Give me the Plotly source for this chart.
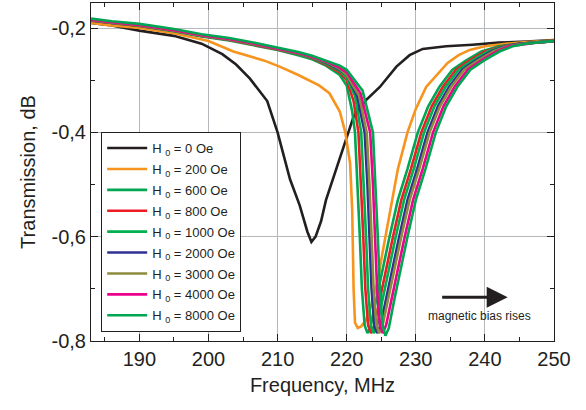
import plotly.graph_objects as go

# field labels and colours
fields = ["0", "200", "600", "800", "1000", "2000", "3000", "4000", "8000"]
colors = ["#231f20", "#f7941d", "#00a651", "#ed1c24", "#00b04f",
          "#2e3192", "#8d8b3c", "#ec008c", "#00a651"]

# H0 = 0 Oe
f_0 = [183, 186, 190, 195, 199, 202, 204, 206, 208.5, 210, 211.8, 213.2, 214.3, 214.9,
       215.5, 216.3, 217, 218, 219.9, 221, 222.8, 224.8, 227.2, 229.1, 231, 234.4,
       238.2, 242, 246, 250]
t_0 = [-0.19, -0.195, -0.205, -0.215, -0.23, -0.25, -0.27, -0.297, -0.34, -0.40,
       -0.49, -0.54, -0.59, -0.61, -0.60, -0.57, -0.53, -0.49, -0.414, -0.37, -0.338,
       -0.313, -0.274, -0.252, -0.24, -0.235, -0.232, -0.228, -0.226, -0.223]

# H0 = 200 Oe
f_200 = [183, 186, 190, 195, 200, 203.6, 208, 210.3, 213, 216, 217.5, 219, 219.8,
         220.5, 220.8, 221.0, 221.2, 221.6, 222.1, 222.8, 223.6, 224.4, 225.2, 226.2,
         227.4, 228.8, 230, 231.5, 233, 234.6, 236.2, 237.8, 240, 243, 246, 250]
t_200 = [-0.19, -0.195, -0.2, -0.21, -0.225, -0.245, -0.262, -0.274, -0.29, -0.31,
         -0.325, -0.36, -0.40, -0.46, -0.55, -0.70, -0.765, -0.775, -0.772, -0.76,
         -0.73, -0.69, -0.63, -0.56, -0.471, -0.40, -0.355, -0.313, -0.29, -0.267,
         -0.252, -0.242, -0.235, -0.23, -0.227, -0.224]

# H0 = 600 Oe
f_600 = [183, 186, 190, 195, 199, 203, 207, 210, 213, 215, 217, 219, 220.0, 220.8,
         221.2, 221.6, 221.9, 222.2, 222.6, 223.0, 223.5, 224.3, 225.2, 226.2, 227.4,
         228.8, 230.3, 231.8, 233.4, 235.3, 237.3, 239.5, 242, 245, 248, 250]
t_600 = [-0.186, -0.19, -0.196, -0.206, -0.216, -0.224, -0.234, -0.242, -0.252,
         -0.26, -0.272, -0.29, -0.31, -0.36, -0.40, -0.50, -0.60, -0.70, -0.77,
         -0.785, -0.77, -0.72, -0.66, -0.60, -0.53, -0.47, -0.40, -0.35, -0.313,
         -0.28, -0.262, -0.245, -0.235, -0.23, -0.227, -0.225]

# H0 = 800 Oe
f_800 = [183, 186, 190, 195, 199, 203, 207, 210, 213, 215, 217, 219, 220.0, 221.0,
         221.7, 222.1, 222.4, 222.7, 223.1, 223.5, 224.0, 224.8, 225.7, 226.7, 227.9,
         229.3, 230.8, 232.3, 233.9, 235.8, 237.8, 240.0, 242.5, 245, 248, 250]
t_800 = [-0.186, -0.19, -0.196, -0.205, -0.215, -0.223, -0.233, -0.241, -0.25,
         -0.258, -0.27, -0.285, -0.30, -0.34, -0.40, -0.50, -0.60, -0.70, -0.77,
         -0.785, -0.77, -0.72, -0.66, -0.60, -0.53, -0.47, -0.40, -0.35, -0.313,
         -0.28, -0.262, -0.245, -0.235, -0.23, -0.227, -0.225]

# H0 = 1000 Oe
f_1000 = [183, 186, 190, 195, 199, 203, 207, 210, 213, 215, 217, 219, 220.0, 221.2,
          222.1, 222.5, 222.8, 223.1, 223.5, 223.9, 224.4, 225.2, 226.1, 227.1, 228.3,
          229.7, 231.2, 232.7, 234.3, 236.2, 238.2, 240.4, 242.7, 245, 248, 250]
t_1000 = [-0.185, -0.19, -0.195, -0.205, -0.215, -0.222, -0.232, -0.24, -0.25,
          -0.257, -0.268, -0.282, -0.295, -0.33, -0.40, -0.50, -0.60, -0.70, -0.77,
          -0.785, -0.77, -0.72, -0.66, -0.60, -0.53, -0.47, -0.40, -0.35, -0.313,
          -0.28, -0.262, -0.245, -0.235, -0.23, -0.227, -0.225]

# H0 = 2000 Oe
f_2000 = [183, 186, 190, 195, 199, 203, 207, 210, 213, 215, 217, 219, 220.0, 221.5,
          222.6, 223.0, 223.3, 223.6, 224.0, 224.4, 224.9, 225.7, 226.6, 227.6, 228.8,
          230.2, 231.7, 233.2, 234.8, 236.7, 238.7, 240.9, 243, 245, 248, 250]
t_2000 = [-0.185, -0.19, -0.195, -0.205, -0.215, -0.222, -0.232, -0.24, -0.249,
          -0.256, -0.266, -0.28, -0.29, -0.33, -0.40, -0.50, -0.60, -0.70, -0.77,
          -0.785, -0.77, -0.72, -0.66, -0.60, -0.53, -0.47, -0.40, -0.35, -0.313,
          -0.28, -0.262, -0.245, -0.235, -0.23, -0.227, -0.225]

# H0 = 3000 Oe
f_3000 = [183, 186, 190, 195, 199, 203, 207, 210, 213, 215, 217, 219, 220.0, 221.8,
          222.9, 223.3, 223.6, 223.9, 224.3, 224.7, 225.2, 226.0, 226.9, 227.9, 229.1,
          230.5, 232.0, 233.5, 235.1, 237.0, 239.0, 241.2, 243.2, 245.5, 248, 250]
t_3000 = [-0.185, -0.19, -0.195, -0.205, -0.215, -0.222, -0.232, -0.24, -0.249,
          -0.256, -0.265, -0.278, -0.29, -0.33, -0.40, -0.50, -0.60, -0.70, -0.77,
          -0.785, -0.77, -0.72, -0.66, -0.60, -0.53, -0.47, -0.40, -0.35, -0.313,
          -0.28, -0.262, -0.245, -0.235, -0.23, -0.227, -0.225]

# H0 = 4000 Oe
f_4000 = [183, 186, 190, 195, 199, 203, 207, 210, 213, 215, 217, 219, 220.0, 222.0,
          223.4, 223.8, 224.1, 224.4, 224.8, 225.2, 225.7, 226.5, 227.4, 228.4, 229.6,
          231.0, 232.5, 234.0, 235.6, 237.5, 239.5, 241.7, 243.5, 246, 248, 250]
t_4000 = [-0.184, -0.189, -0.194, -0.204, -0.214, -0.221, -0.231, -0.239, -0.248,
          -0.255, -0.264, -0.276, -0.285, -0.325, -0.40, -0.50, -0.60, -0.70, -0.77,
          -0.785, -0.77, -0.72, -0.66, -0.60, -0.53, -0.47, -0.40, -0.35, -0.313,
          -0.28, -0.262, -0.245, -0.235, -0.23, -0.227, -0.225]

# H0 = 8000 Oe
f_8000 = [183, 186, 190, 195, 199, 203, 207, 210, 213, 215, 217, 219, 220.0, 222.3,
          223.8, 224.2, 224.5, 224.8, 225.2, 225.6, 226.1, 226.9, 227.8, 228.8, 230.0,
          231.4, 232.9, 234.4, 236.0, 237.9, 239.9, 242.1, 244, 246, 248, 250]
t_8000 = [-0.182, -0.187, -0.192, -0.202, -0.212, -0.219, -0.229, -0.237, -0.246,
          -0.253, -0.262, -0.272, -0.28, -0.32, -0.40, -0.50, -0.60, -0.70, -0.77,
          -0.79, -0.775, -0.72, -0.66, -0.60, -0.53, -0.47, -0.40, -0.35, -0.313,
          -0.28, -0.262, -0.245, -0.235, -0.23, -0.227, -0.225]

freqs = [f_0, f_200, f_600, f_800, f_1000, f_2000, f_3000, f_4000, f_8000]
trans = [t_0, t_200, t_600, t_800, t_1000, t_2000, t_3000, t_4000, t_8000]

y_ticks = [-0.8, -0.6, -0.4, -0.2]
y_ticktext = ["-0,8", "-0,6", "-0,4", "-0,2"]

FONT = "Liberation Sans, Arial, sans-serif"
INK = "#231f20"

fig = go.Figure()
for h, c, f, t in zip(fields, colors, freqs, trans):
    fig.add_trace(go.Scatter(
        x=f, y=t, mode="lines",
        name=f"H <sub>0</sub> = {h} Oe",
        legendgroup=h,
        line=dict(color=c, width=2.6),
    ))

fig.add_annotation(x=243.3, y=-0.716, ax=233.6, ay=-0.716, axref="x", ayref="y",
                   xref="x", yref="y", text="", showarrow=True,
                   arrowhead=2, arrowsize=1.4, arrowwidth=3, arrowcolor=INK)
fig.add_annotation(x=239.2, y=-0.752, text="magnetic bias rises", showarrow=False,
                   font=dict(size=12, color=INK, family=FONT))

fig.update_layout(
    width=586, height=410,
    margin=dict(l=91, r=32, t=3, b=69),
    plot_bgcolor="white", paper_bgcolor="white",
    font=dict(family=FONT, color=INK),
    showlegend=True,
    legend=dict(x=0.022, y=0.618, xanchor="left", yanchor="top",
                bgcolor="white", bordercolor=INK, borderwidth=1,
                font=dict(size=13, color=INK), itemwidth=40,
                tracegroupgap=1),
    xaxis=dict(range=[183, 250], dtick=10, tick0=0, automargin=False,
               showline=True, linecolor=INK, linewidth=1, mirror="ticks",
               ticks="inside", ticklen=7, tickcolor=INK,
               showgrid=True, gridcolor="#b4b8bc", gridwidth=1, zeroline=False,
               tickfont=dict(size=20), title=dict(text="Frequency, MHz", font=dict(size=20), standoff=8),
               minor=dict(dtick=5, ticks="inside", ticklen=4, tickcolor=INK, showgrid=False)),
    yaxis=dict(range=[-0.8, -0.152], tickvals=y_ticks, ticktext=y_ticktext, automargin=False,
               showline=True, linecolor=INK, linewidth=1, mirror="ticks",
               ticks="inside", ticklen=7, tickcolor=INK,
               showgrid=True, gridcolor="#b4b8bc", gridwidth=1, zeroline=False,
               tickfont=dict(size=20), title=dict(text="Transmission, dB", font=dict(size=20), standoff=10),
               minor=dict(tickvals=[-0.7, -0.5, -0.3], ticks="inside", ticklen=4, tickcolor=INK, showgrid=False)),
)

# drop the page's default body margin so the figure sits at the window corner
fig.write_html("out.html", config={"displayModeBar": False},
               post_script="document.body.style.margin='0px';")
